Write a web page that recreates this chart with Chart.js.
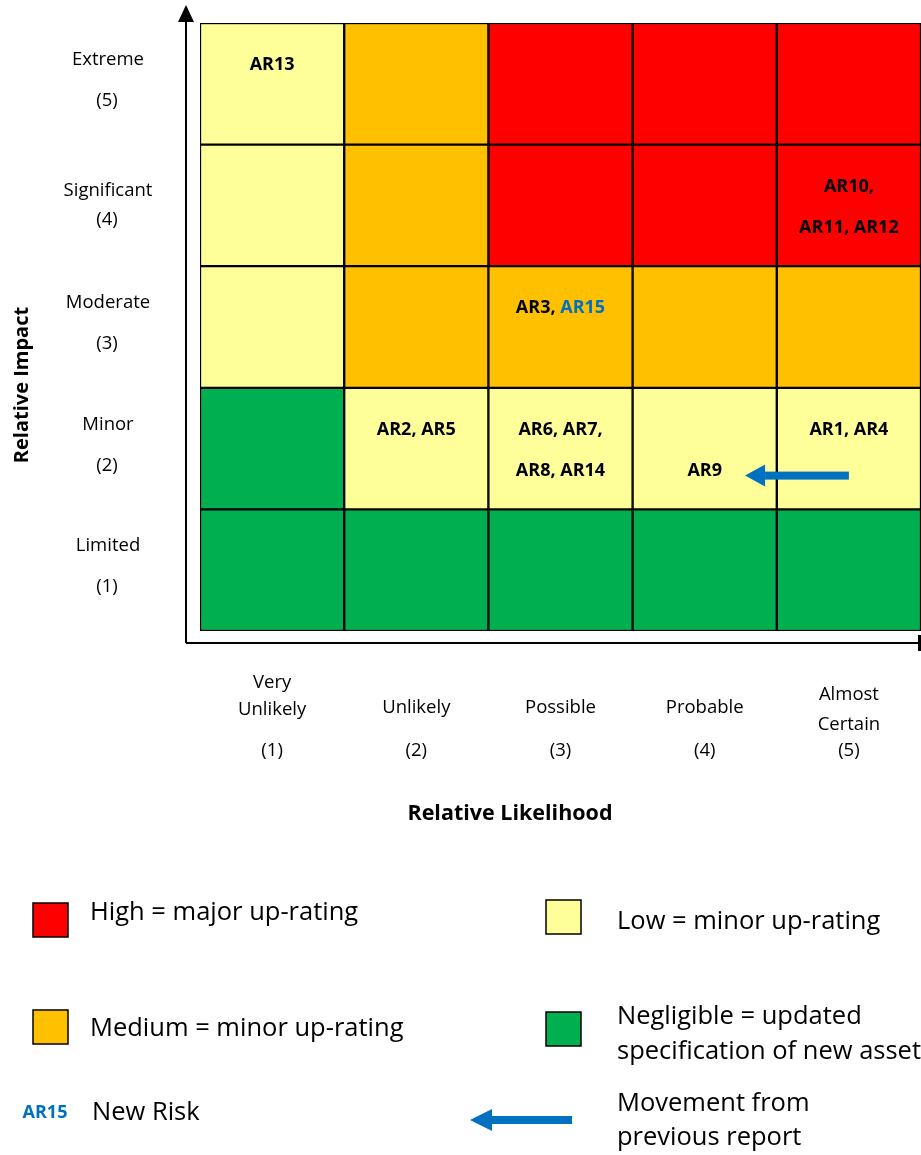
<!DOCTYPE html>
<html>
<head>
<meta charset="utf-8">
<script src="https://cdn.jsdelivr.net/npm/chart.js@4.4.0/dist/chart.umd.min.js"></script>
<style>
  html, body { margin: 0; padding: 0; background: #fff; }
  #chart { display: block; }
</style>
</head>
<body>
<canvas id="chart" width="921" height="1155"></canvas>
<script>
// likelihood columns (1..5) and impact rows (1..5)
var likelihoodLabels = [['Very', 'Unlikely'], ['Unlikely'], ['Possible'], ['Probable'], ['Almost', 'Certain']]
var impactLabels = ['Limited', 'Minor', 'Moderate', 'Significant', 'Extreme']

// rating per cell, rows listed from impact 1 up to impact 5
var ratingRows = [
  ['N', 'N', 'N', 'N', 'N'],
  ['N', 'L', 'L', 'L', 'L'],
  ['L', 'M', 'M', 'M', 'M'],
  ['L', 'M', 'H', 'H', 'H'],
  ['L', 'M', 'H', 'H', 'H']
]
// risks in each cell, same row order, each entry is a list of text lines
var riskRows = [
  [[], [], [], [], []],
  [[], ['AR2, AR5'], ['AR6, AR7,', 'AR8, AR14'], ['', 'AR9'], ['AR1, AR4']],
  [[], [], ['AR3, AR15'], [], []],
  [[], [], [], [], ['AR10,', 'AR11, AR12']],
  [['AR13'], [], [], [], []]
]
var newRisks = ['AR15']
// movement arrow: impact row, from likelihood, to likelihood
var movements = [{ impact: 2, from: 5, to: 4 }]

var ratingColors = { H: '#FF0000', M: '#FFC000', L: '#FFFF99', N: '#00B050' }
var legendItems = [
  { key: 'H', text: ['High = major up-rating'] },
  { key: 'L', text: ['Low = minor up-rating'] },
  { key: 'M', text: ['Medium = minor up-rating'] },
  { key: 'N', text: ['Negligible = updated', 'specification of new assets'] }
]

var FONT = '"Open Sans", sans-serif'
var BLUE = '#0070C0'

var datasets = ratingRows.map(function(row, i) {
  var impact = i + 1
  return {
    label: impactLabels[i],
    data: row.map(function() { return [impact - 0.5, impact + 0.5] }),
    backgroundColor: row.map(function(r) { return ratingColors[r] }),
    borderColor: '#000',
    borderWidth: 1.5,
    borderSkipped: false,
    grouped: false,
    categoryPercentage: 1,
    barPercentage: 1
  }
})

function arrowLeft(ctx, x1, x2, y, shaft, head, headLen) {
  ctx.save()
  ctx.fillStyle = BLUE
  ctx.fillRect(x2 + headLen, y - shaft / 2, x1 - x2 - headLen, shaft)
  ctx.beginPath()
  ctx.moveTo(x2, y)
  ctx.lineTo(x2 + headLen, y - head / 2)
  ctx.lineTo(x2 + headLen, y + head / 2)
  ctx.closePath()
  ctx.fill()
  ctx.restore()
}

function drawRiskLine(ctx, line, cx, y) {
  var parts = line.split(/(AR\d+)/).filter(function(p) { return p !== '' })
  var total = 0
  parts.forEach(function(p) { total += ctx.measureText(p).width })
  var x = cx - total / 2
  parts.forEach(function(p) {
    ctx.fillStyle = newRisks.indexOf(p) >= 0 ? BLUE : '#000'
    ctx.fillText(p, x, y)
    x += ctx.measureText(p).width
  })
}

var matrixText = {
  id: 'matrixText',
  afterDraw: function(chart) {
    var ctx = chart.ctx
    var xs = chart.scales.x
    var ys = chart.scales.y
    var area = chart.chartArea
    var cellW = (area.right - area.left) / 5
    ctx.save()

    // axes with arrows
    ctx.strokeStyle = '#000'
    ctx.lineWidth = 2
    ctx.beginPath()
    ctx.moveTo(186, area.bottom + 12)
    ctx.lineTo(186, 18)
    ctx.moveTo(186, area.bottom + 12)
    ctx.lineTo(921, area.bottom + 12)
    ctx.stroke()
    ctx.fillStyle = '#000'
    ctx.beginPath()
    ctx.moveTo(186, 5)
    ctx.lineTo(178, 22)
    ctx.lineTo(194, 22)
    ctx.closePath()
    ctx.fill()
    ctx.fillRect(918, area.bottom + 4, 3, 16)

    // risk labels inside cells
    ctx.font = 'bold 18px ' + FONT
    ctx.textAlign = 'left'
    ctx.textBaseline = 'middle'
    riskRows.forEach(function(row, i) {
      var top = ys.getPixelForValue(i + 1.5)
      row.forEach(function(lines, j) {
        var cx = xs.getPixelForValue(j)
        lines.forEach(function(line, k) {
          drawRiskLine(ctx, line, cx, top + 42 + k * 41)
        })
      })
    })

    // movement arrows
    movements.forEach(function(m) {
      var y = ys.getPixelForValue(m.impact) + 27
      var x1 = xs.getPixelForValue(m.from - 1)
      var x2 = xs.getPixelForValue(m.to - 1) + cellW * 0.28
      arrowLeft(ctx, x1, x2, y, 8, 22, 20)
    })

    // impact tick labels
    ctx.fillStyle = '#000'
    ctx.textAlign = 'center'
    ctx.font = '18.5px ' + FONT
    impactLabels.forEach(function(lab, i) {
      var cy = ys.getPixelForValue(i + 1)
      var up = lab === 'Significant' ? 15 : 24
      var dn = lab === 'Significant' ? 14 : 17
      ctx.fillText(lab, 108, cy - up)
      ctx.fillText('(' + (i + 1) + ')', 107, cy + dn)
    })

    // likelihood tick labels
    likelihoodLabels.forEach(function(lines, j) {
      var cx = xs.getPixelForValue(j)
      if (lines.length === 1) {
        ctx.fillText(lines[0], cx, 708)
      } else {
        ctx.fillText(lines[0], cx, j === 0 ? 683 : 695)
        ctx.fillText(lines[1], cx, j === 0 ? 710 : 725)
      }
      ctx.fillText('(' + (j + 1) + ')', cx, 751)
    })

    // axis titles
    ctx.font = 'bold 21.5px ' + FONT
    ctx.fillText('Relative Likelihood', 510, 814)
    ctx.font = 'bold 20px ' + FONT
    ctx.save()
    ctx.translate(22, 385)
    ctx.rotate(-Math.PI / 2)
    ctx.fillText('Relative Impact', 0, 0)
    ctx.restore()

    // legend
    var spots = [[33, 903, 90, 913], [546, 900, 617, 922], [33, 1010, 90, 1029], [546, 1012, 617, 1017]]
    ctx.textAlign = 'left'
    legendItems.forEach(function(item, i) {
      var s = spots[i]
      ctx.fillStyle = ratingColors[item.key]
      ctx.fillRect(s[0], s[1], 35, 34)
      ctx.strokeStyle = '#000'
      ctx.lineWidth = 1.5
      ctx.strokeRect(s[0], s[1], 35, 34)
      ctx.fillStyle = '#000'
      ctx.font = '25.5px ' + FONT
      item.text.forEach(function(t, k) {
        ctx.fillText(t, s[2], s[3] + k * 35)
      })
    })
    ctx.font = 'bold 18px ' + FONT
    ctx.fillStyle = BLUE
    ctx.textAlign = 'center'
    ctx.fillText(newRisks[0], 45, 1113)
    ctx.textAlign = 'left'
    ctx.fillStyle = '#000'
    ctx.font = '25.5px ' + FONT
    ctx.fillText('New Risk', 92, 1113)
    arrowLeft(ctx, 572, 470, 1120, 8, 22, 22)
    ctx.fillText('Movement from', 617, 1104)
    ctx.fillText('previous report', 617, 1138)

    ctx.restore()
  }
}

var ctx = document.getElementById('chart')
var chart = new Chart(ctx, {
  type: 'bar',
  data: {
    labels: likelihoodLabels.map(function(l) { return l.join(' ') }),
    datasets: datasets
  },
  options: {
    responsive: false,
    animation: false,
    layout: { padding: { left: 200, top: 23, right: 0, bottom: 524 } },
    plugins: { legend: { display: false }, tooltip: { enabled: false } },
    scales: {
      x: { display: false, offset: true },
      y: { display: false, min: 0.5, max: 5.5 }
    }
  },
  plugins: [matrixText]
})
</script>
</body>
</html>
